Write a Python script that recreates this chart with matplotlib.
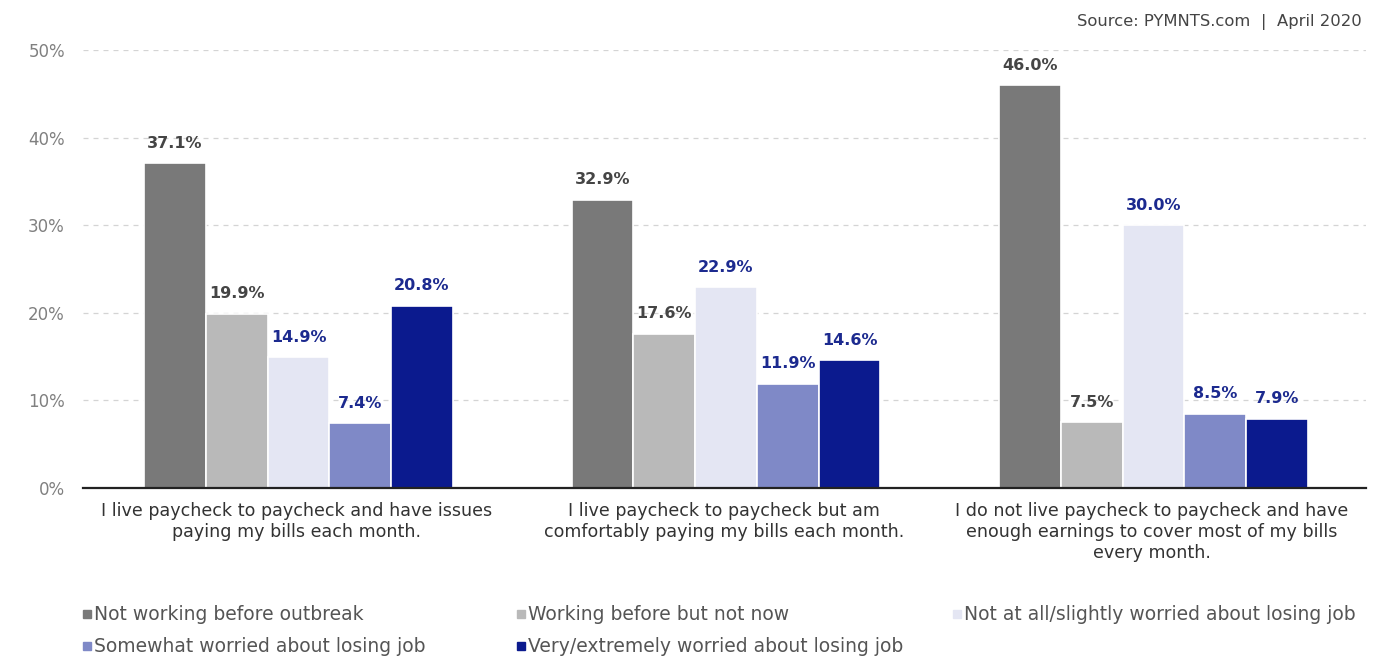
import numpy as np
import matplotlib.pyplot as plt
from matplotlib.lines import Line2D

categories = [
    "I live paycheck to paycheck and have issues\npaying my bills each month.",
    "I live paycheck to paycheck but am\ncomfortably paying my bills each month.",
    "I do not live paycheck to paycheck and have\nenough earnings to cover most of my bills\nevery month.",
]
series_names = [
    "Not working before outbreak",
    "Working before but not now",
    "Not at all/slightly worried about losing job",
    "Somewhat worried about losing job",
    "Very/extremely worried about losing job",
]
not_working = [37.1, 32.9, 46.0]
working_before = [19.9, 17.6, 7.5]
not_worried = [14.9, 22.9, 30.0]
somewhat_worried = [7.4, 11.9, 8.5]
very_worried = [20.8, 14.6, 7.9]
values = [not_working, working_before, not_worried, somewhat_worried, very_worried]

colors = ["#797979", "#b9b9b9", "#e4e6f3", "#7f89c7", "#0b1a8e"]
label_colors = ["#454545", "#454545", "#1c2a8f", "#1c2a8f", "#1c2a8f"]

fig = plt.figure(figsize=(13.92, 6.57), dpi=100)
ax = fig.add_axes([0.0596, 0.2572, 0.9214, 0.6667])

x = np.arange(len(categories))
step = 0.1445
width = 0.1445
for i, (vals, c, lc) in enumerate(zip(values, colors, label_colors)):
    pos = x + 0.004 + (i - 2) * step
    ax.bar(pos, vals, width=width, color=c, edgecolor="white", linewidth=1.2, zorder=3)
    for px, v in zip(pos, vals):
        ax.annotate(f"{v:.1f}%", (px, v), xytext=(0, 9), textcoords="offset points",
                    ha="center", va="bottom", fontsize=11.5, fontweight="bold",
                    color=lc, zorder=4)

ax.set_xlim(-0.5, 2.5)
ax.set_ylim(0, 50)
ax.set_yticks(np.arange(0, 51, 10))
ax.set_yticklabels([f"{t}%" for t in range(0, 51, 10)], fontsize=12, color="#808080")
ax.set_xticks(x)
ax.set_xticklabels(categories, fontsize=12.6, color="#333333", linespacing=1.22)
ax.tick_params(axis="both", length=0)
ax.tick_params(axis="y", pad=13)
ax.tick_params(axis="x", pad=10)

ax.yaxis.grid(True, linestyle=(0, (4, 4)), color="#d4d4d4", linewidth=0.9, zorder=0)
for s in ["top", "right", "left"]:
    ax.spines[s].set_visible(False)
ax.spines["bottom"].set_color("#222222")
ax.spines["bottom"].set_linewidth(1.6)
ax.spines["bottom"].set_zorder(5)

# legend laid out row by row in three columns
col_x = [0.059, 0.371, 0.684]
row_y = [0.065, 0.016]
for i, (name, c) in enumerate(zip(series_names, colors)):
    lx = col_x[i % 3]
    ly = row_y[i // 3]
    fig.add_artist(Line2D([lx + 0.0035], [ly], marker="s", markersize=6,
                          color=c, linestyle="none", transform=fig.transFigure))
    fig.text(lx + 0.0085, ly, name, fontsize=13.5, color="#555555",
             va="center", ha="left")

fig.text(0.978, 0.966, "Source: PYMNTS.com  |  April 2020", fontsize=11.8,
         color="#444444", ha="right", va="center")

fig.savefig("out.png", dpi=100)
